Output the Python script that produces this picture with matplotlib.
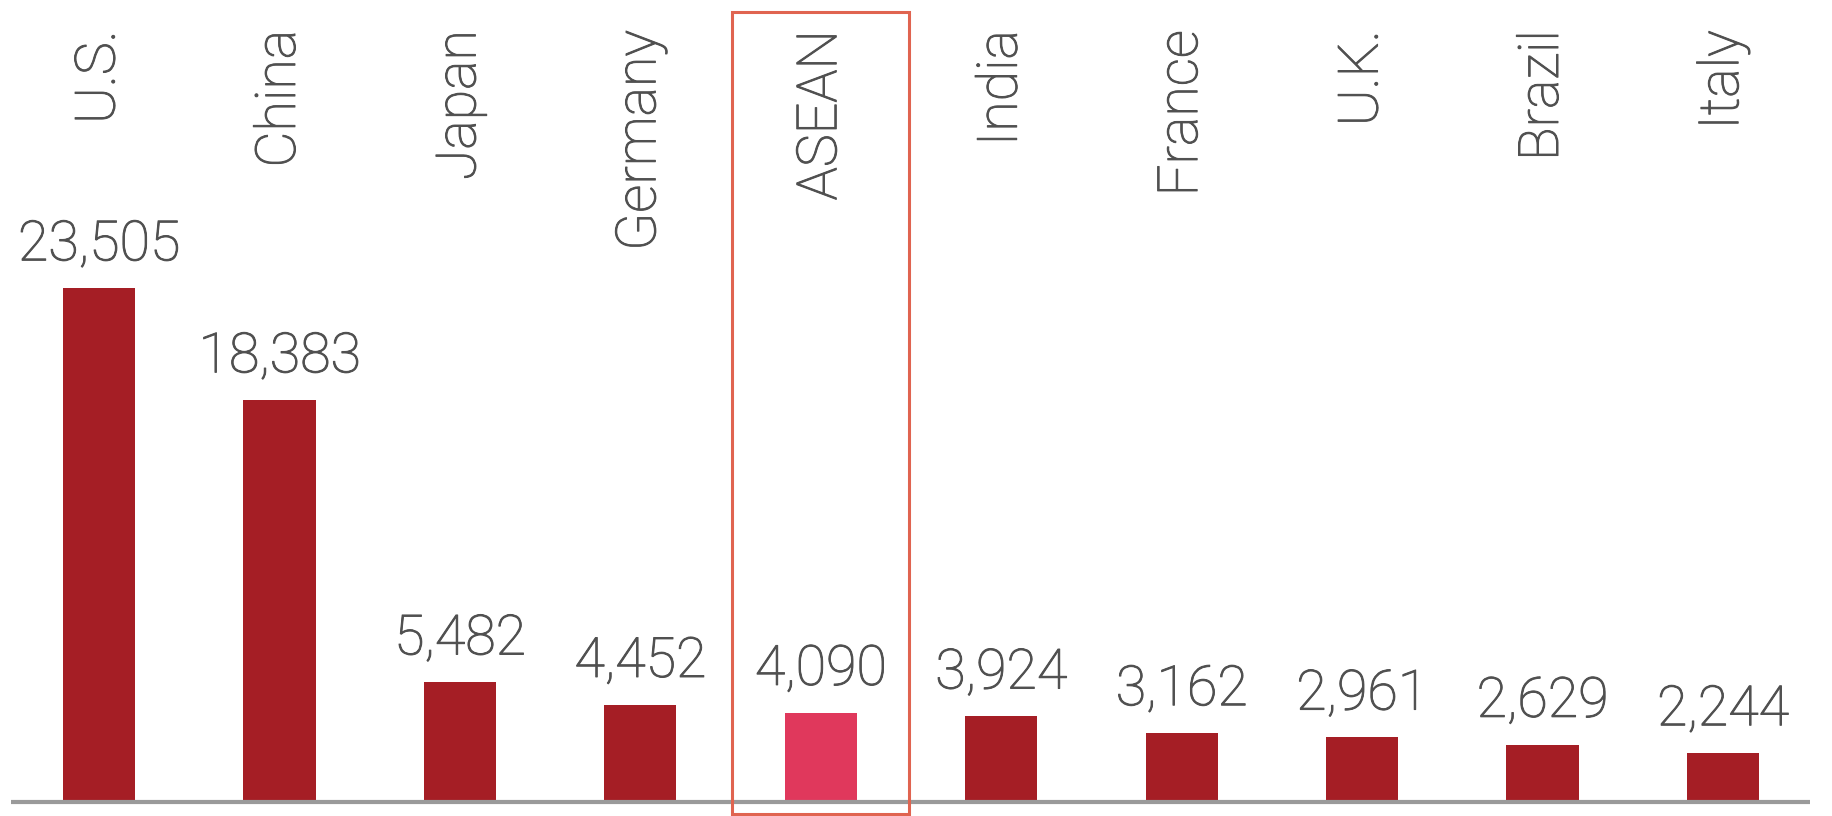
import numpy as np
import matplotlib.pyplot as plt
import matplotlib.patheffects as pe
from matplotlib.patches import Rectangle

# GDP by economy (US$ billion)
countries = ["U.S.", "China", "Japan", "Germany", "ASEAN",
             "India", "France", "U.K.", "Brazil", "Italy"]
gdp = [23505, 18383, 5482, 4452, 4090, 3924, 3162, 2961, 2629, 2244]
highlight = "ASEAN"

BAR = "#a51e25"
BAR_HI = "#e0385c"
TEXT = "#505050"


def main():
    plt.rcParams["font.family"] = ["Roboto", "DejaVu Sans"]

    fig = plt.figure(figsize=(18.33, 8.16), dpi=100)
    ax = fig.add_axes([0, 14 / 816, 1, 802 / 816])

    x = np.arange(len(countries))
    colors = [BAR_HI if c == highlight else BAR for c in countries]
    bars = ax.bar(x, gdp, width=0.4, color=colors, zorder=2)

    ax.set_xlim(-0.549, 9.61)
    ax.set_ylim(0, 36675)
    ax.axis("off")

    # slightly heavier strokes than the plain light face
    thick = [pe.withStroke(linewidth=0.7, foreground=TEXT)]
    style = dict(fontsize=40, fontweight="light", color=TEXT,
                 path_effects=thick)

    # baseline
    ax.plot([-0.49, 9.48], [0, 0], color="#9a9a9a", lw=3,
            clip_on=False, zorder=3, solid_capstyle="butt")

    # value labels above each bar
    for b, v in zip(bars, gdp):
        ax.annotate(f"{v:,}", (b.get_x() + b.get_width() / 2, v),
                    xytext=(0, 12), textcoords="offset points",
                    ha="center", va="bottom", **style)

    # country names along the top
    tr = ax.get_xaxis_transform()
    for xi, name in zip(x, countries):
        ax.text(xi, 0.962, name, rotation=90, ha="center", va="top",
                transform=tr, **style)

    # frame around the highlighted column
    i = countries.index(highlight)
    ax.add_patch(Rectangle((i - 0.49, -12 / 802), 0.98, 802 / 802,
                           transform=tr, fill=False, edgecolor="#e06450",
                           lw=2.2, clip_on=False, zorder=4))

    fig.savefig("out.png", dpi=100, facecolor="white")


if __name__ == "__main__":
    main()
